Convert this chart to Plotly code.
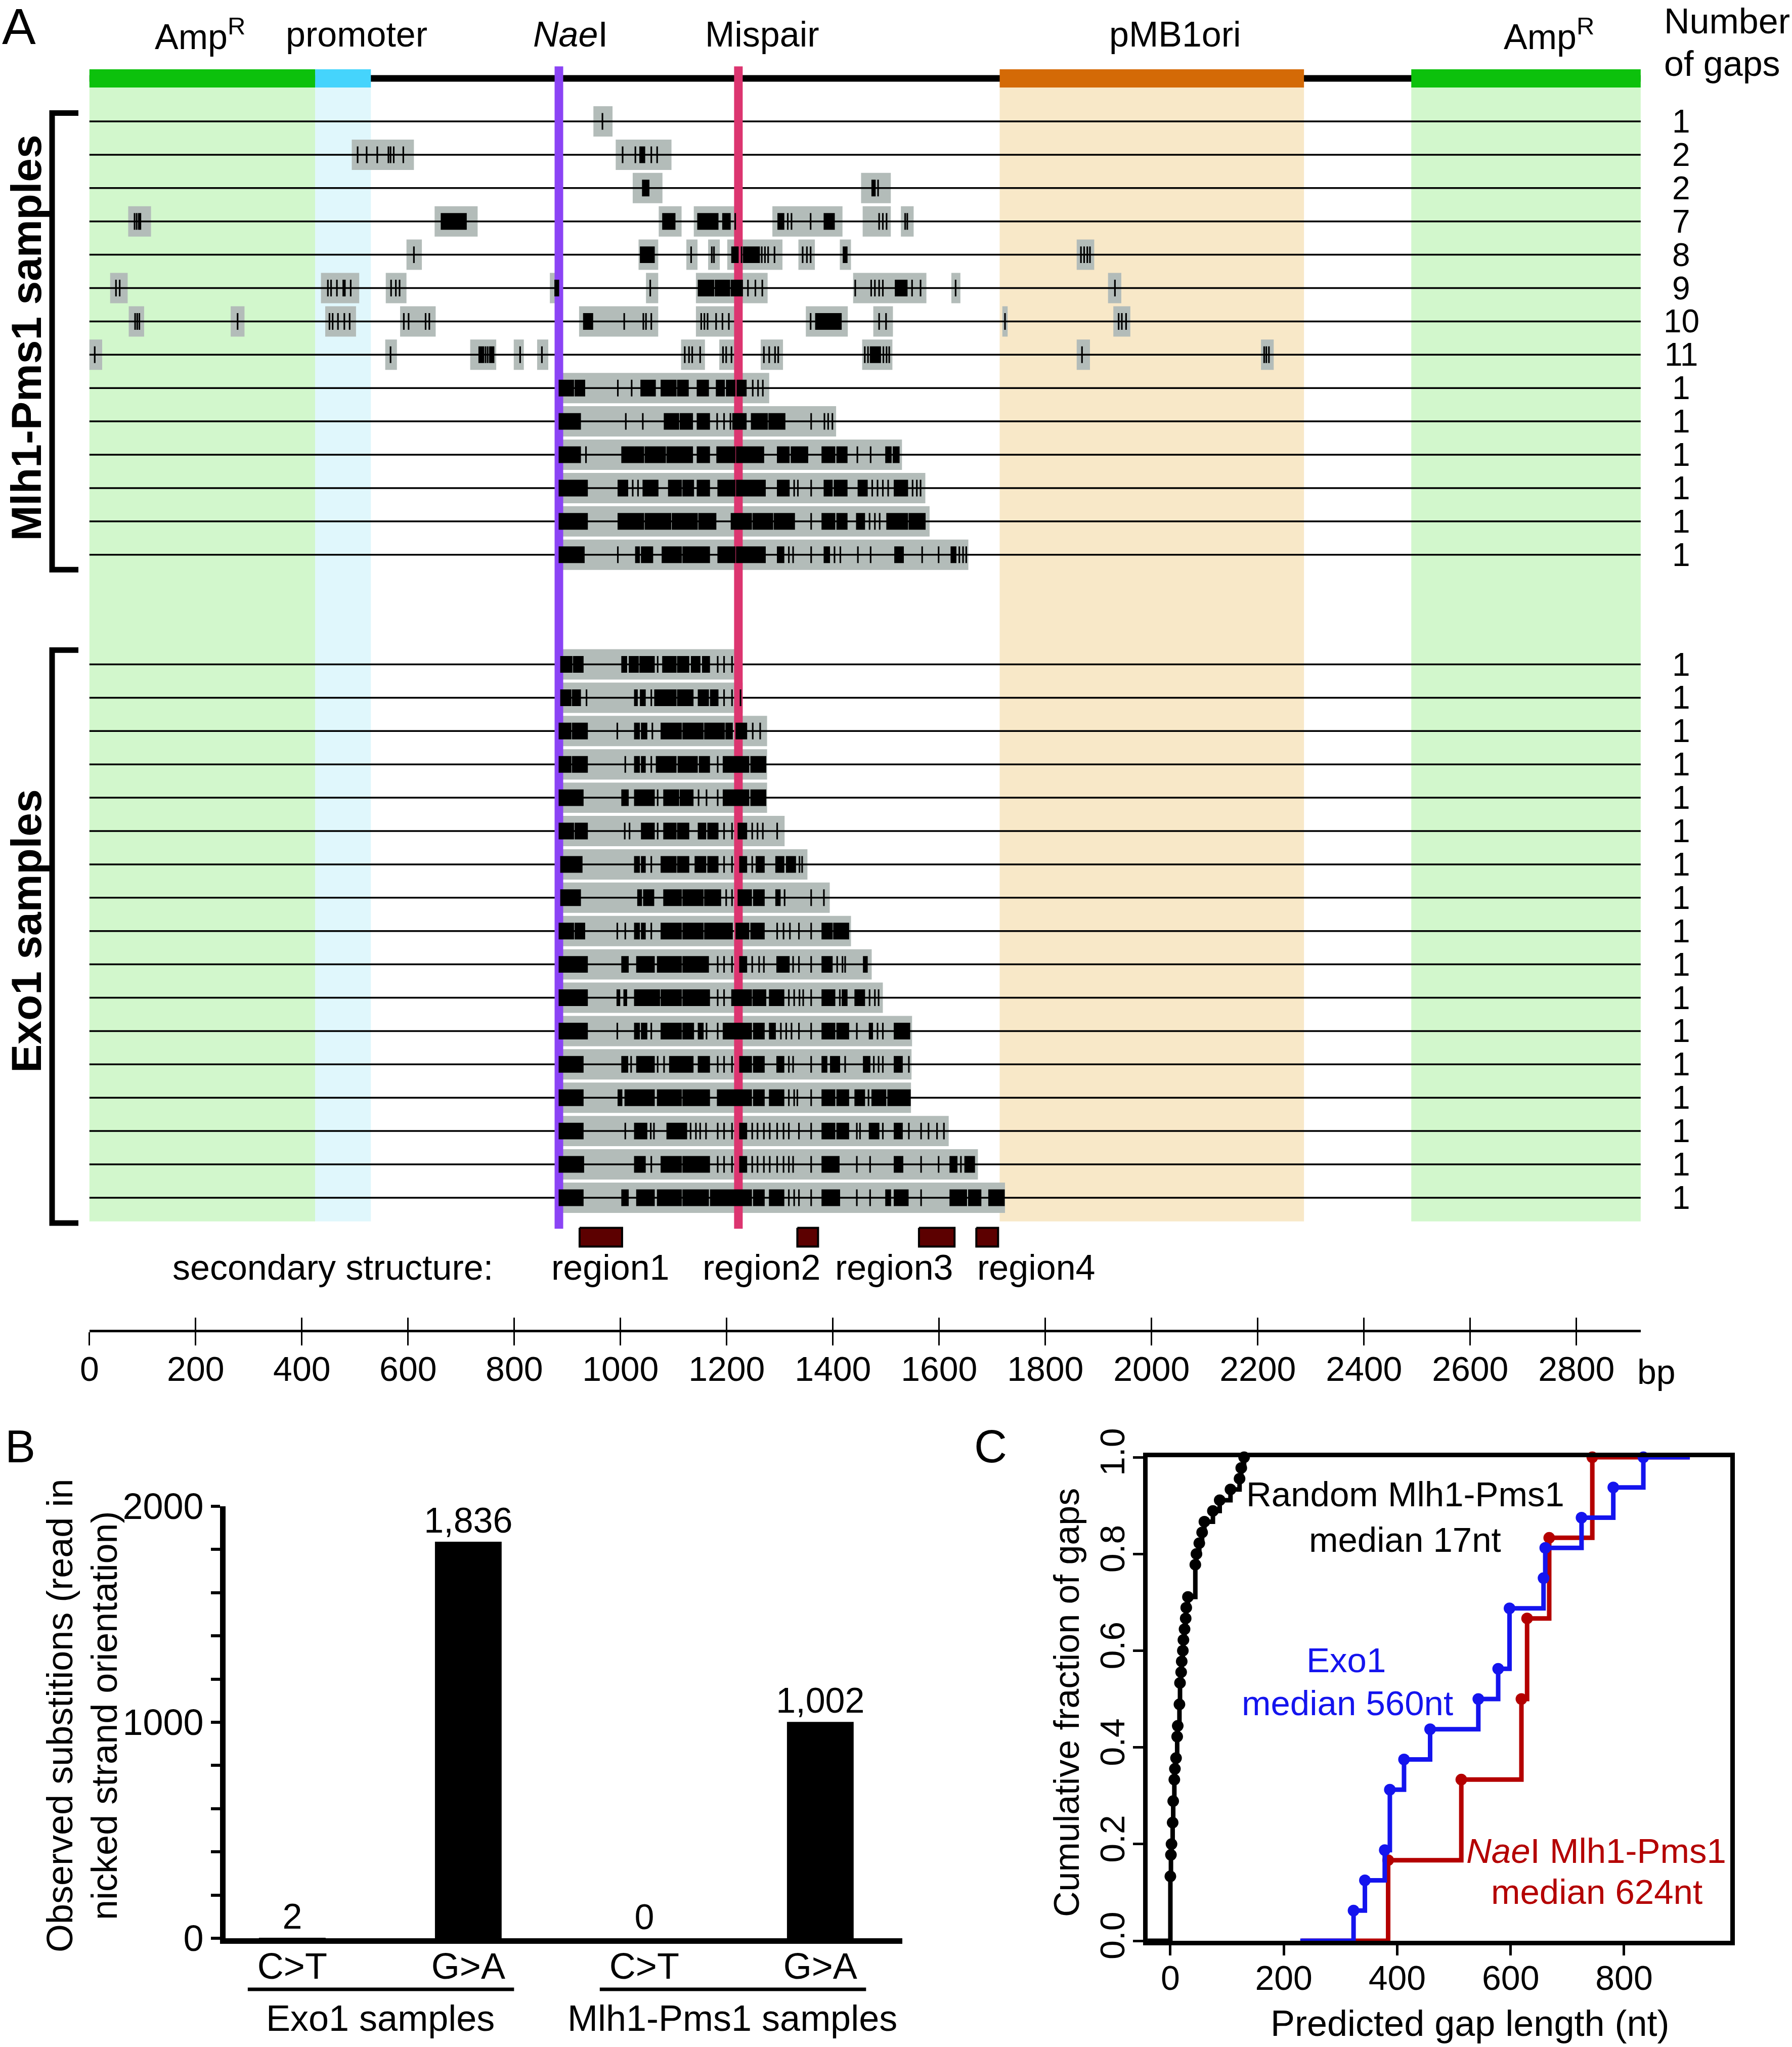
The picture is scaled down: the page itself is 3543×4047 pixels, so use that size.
import numpy as np
import plotly.graph_objects as go

# ============================ DATA ============================
# ---- Panel A: plasmid map (bp) ----
plasmid_length = 2921
feature_names = ["Amp<sup>R</sup>", "promoter", "pMB1ori", "Amp<sup>R</sup>"]
feature_start = [0, 425, 1714, 2489]
feature_end = [425, 530, 2287, 2921]
naei_site = 884
mispair_site = 1222

# Mlh1-Pms1 samples: gaps (start, end) and substitutions (single bp, or dense (start, end) clusters)
mlh1_gaps = [
    [(949, 985)],
    [(494, 611), (991, 1096)],
    [(1023, 1079), (1453, 1509)],
    [(73, 116), (650, 731), (1072, 1115), (1138, 1218), (1286, 1418), (1456, 1509), (1528, 1552)],
    [(597, 626), (1034, 1071), (1124, 1145), (1165, 1187), (1201, 1305), (1335, 1366), (1413, 1434), (1859, 1892)],
    [(39, 72), (436, 508), (558, 597), (867, 890), (1048, 1071), (1142, 1277), (1438, 1576), (1623, 1640), (1918, 1943)],
    [(74, 103), (266, 292), (444, 502), (585, 652), (922, 1071), (1142, 1220), (1349, 1428), (1476, 1513), (1719, 1729), (1928, 1960)],
    [(0, 24), (557, 579), (717, 766), (799, 818), (843, 864), (1114, 1159), (1186, 1228), (1264, 1306), (1455, 1512), (1859, 1884), (2206, 2230)],
    [(884, 1280)],
    [(884, 1406)],
    [(884, 1530)],
    [(884, 1574)],
    [(884, 1582)],
    [(884, 1655)],
]
mlh1_mutations = [
    [966],
    [505, 522, 542, 563, 567, 573, 591, 1004, 1028, (1037, 1045), 1058, 1069],
    [(1042, 1053), (1474, 1479), 1485],
    [85, 89, 93, 96, (663, 709), (1080, 1102), (1146, 1183), (1193, 1206), 1216, (1297, 1307), 1315, 1322, 1358,
     (1384, 1402), 1487, 1494, 1501, 1536, 1540],
    [611, (1038, 1063), 1133, 1172, 1176, (1210, 1221), 1228, (1232, 1261), 1266, 1272, 1278, 1290, 1343, 1351, 1358,
     (1420, 1426), 1867, 1873, 1879, 1884],
    [50, 57, 449, 455, 466, (478, 481), 492, 568, 577, 584, (877, 883), 1056, (1147, 1175), (1179, 1205), (1209, 1229),
     1240, 1254, 1267, 1442, 1472, 1479, 1487, 1494, (1518, 1539), 1549, 1565, 1631, 1931],
    [86, 90, 94, 279, 452, 458, 468, 480, 490, 592, 601, 633, 640, (931, 947), 1007, 1043, 1048, 1058, 1152, 1158,
     1164, 1180, 1192, 1204, 1358, (1368, 1415), 1487, 1500, 1724, 1938, 1944, 1952],
    [10, 567, (734, 742), 746, 750, (754, 761), 811, 852, 1121, 1129, 1135, 1150, 1193, 1199, 1209, 1270, 1280, 1291,
     1297, 1460, 1466, (1471, 1489), 1495, 1501, 1506, 1869, 2212, 2216, 2221],
    [(885, 911), (915, 932), 995, 1021, (1039, 1065), (1077, 1104), (1108, 1127), (1145, 1165), (1181, 1195),
     (1200, 1215), (1220, 1236), 1249, 1259, 1268],
    [(885, 924), 1010, 1042, (1083, 1109), (1113, 1135), (1145, 1167), 1182, 1195, 1207, (1212, 1236), (1247, 1276),
     (1280, 1309), 1359, 1384, 1391, 1399],
    [(885, 924), 935, (1003, 1043), (1047, 1084), (1088, 1135), (1145, 1167), (1182, 1215), (1219, 1269), (1296, 1317),
     (1322, 1352), (1380, 1403), (1408, 1426), 1446, 1471, (1500, 1509), (1514, 1524)],
    [(885, 937), (996, 1013), 1023, 1033, (1043, 1070), (1091, 1114), (1118, 1137), (1145, 1167), (1184, 1215),
     (1219, 1272), (1296, 1317), 1327, 1334, 1359, (1384, 1398), (1403, 1426), (1448, 1464), 1474, 1484, 1494, 1504,
     (1516, 1540), 1550, 1558, 1565],
    [(885, 937), (996, 1043), (1047, 1094), (1098, 1144), (1148, 1179), (1209, 1246), (1250, 1286), (1290, 1327), 1359,
     (1380, 1403), (1408, 1426), (1445, 1459), 1469, 1479, 1488, (1502, 1540), (1544, 1573)],
    [(885, 931), 995, (1029, 1035), (1040, 1060), (1079, 1114), (1118, 1167), (1184, 1215), (1219, 1272), (1296, 1307),
     1317, 1325, 1359, (1384, 1393), 1403, 1414, 1447, 1471, (1517, 1532), 1568, 1599, (1623, 1631), 1638, 1645, 1651],
]

# Exo1 samples: every gap starts at the NaeI nick
exo1_gap_start = 884
exo1_gap_end = [1224, 1230, 1276, 1276, 1276, 1309, 1352, 1394, 1434, 1473, 1494, 1549, 1548, 1547, 1618, 1673, 1724]
exo1_mutations = [
    [(888, 908), (912, 929), (1003, 1011), (1017, 1033), (1037, 1063), 1070, (1080, 1104), (1108, 1128), (1134, 1149),
     (1155, 1167), 1183, 1195, 1210],
    [(888, 906), (910, 924), 936, (1027, 1031), (1038, 1046), 1058, (1065, 1104), (1108, 1136), (1147, 1165),
     (1170, 1183), 1195, 1210, 1226],
    [(885, 906), (910, 937), 994, (1027, 1035), (1040, 1049), 1060, (1077, 1114), (1118, 1155), (1159, 1195),
     (1199, 1210), (1218, 1237), 1249, 1263],
    [(885, 906), (910, 937), 1009, (1027, 1035), (1040, 1046), 1058, (1068, 1104), (1109, 1144), (1149, 1167), 1183,
     (1194, 1215), (1218, 1241), (1246, 1273)],
    [(885, 929), (1003, 1014), (1027, 1063), 1070, (1082, 1109), (1113, 1136), 1147, 1162, 1183, (1194, 1215),
     (1218, 1241), (1246, 1273)],
    [(885, 911), (915, 937), 1008, 1017, (1040, 1063), 1070, (1082, 1104), (1108, 1128), (1147, 1160), (1165, 1183),
     1195, 1210, (1222, 1237), 1248, 1258, 1268, 1295],
    [(888, 927), (1027, 1035), (1040, 1046), 1058, (1077, 1104), (1108, 1128), (1141, 1160), (1165, 1183), 1195, 1210,
     (1225, 1237), 1248, (1256, 1270), (1293, 1307), (1313, 1329), 1337, 1342],
    [(888, 924), (1033, 1039), (1044, 1062), (1082, 1114), (1118, 1155), (1159, 1188), 1199, 1210, (1222, 1246),
     (1251, 1270), (1293, 1300), 1309, 1359, 1383],
    [(885, 911), (915, 932), 994, 1009, (1027, 1035), (1040, 1046), 1058, (1077, 1114), (1118, 1155), (1159, 1210),
     (1218, 1241), (1246, 1270), 1295, 1307, 1319, 1336, 1359, (1380, 1398), (1402, 1429)],
    [(885, 937), (1003, 1014), (1031, 1063), (1070, 1114), (1118, 1165), 1183, 1195, 1210, (1225, 1237), 1248, 1261,
     1270, (1295, 1317), 1325, 1336, 1359, (1380, 1398), 1408, 1418, 1423, (1458, 1464)],
    [(885, 937), (994, 998), (1007, 1011), (1027, 1073), (1077, 1114), (1118, 1167), 1183, 1195, (1210, 1246),
     (1250, 1273), (1281, 1307), 1317, 1327, 1337, 1344, 1359, (1380, 1403), 1413, (1418, 1426), (1442, 1459), 1469,
     1479, 1486],
    [(885, 937), 994, (1027, 1035), (1040, 1049), 1058, (1077, 1114), (1118, 1137), (1147, 1155), 1162, 1183,
     (1194, 1215), (1218, 1246), (1251, 1270), (1281, 1291), 1302, 1312, 1322, 1336, 1359, (1380, 1403), (1408, 1429),
     1445, (1469, 1474), 1484, 1494, (1516, 1544)],
    [(885, 929), (1003, 1013), 1020, (1031, 1063), 1070, 1082, (1093, 1136), (1147, 1167), 1183, 1195, 1210,
     (1225, 1246), (1251, 1270), (1295, 1307), 1317, 1325, 1359, (1380, 1388), (1396, 1412), 1423, (1458, 1469), 1477,
     1486, 1494, (1516, 1530), 1543],
    [(885, 929), (996, 1002), (1009, 1063), (1070, 1114), (1118, 1167), (1183, 1215), (1218, 1246), (1251, 1270),
     (1281, 1307), 1317, 1327, 1333, 1359, (1380, 1403), (1408, 1429), (1442, 1459), 1467, (1474, 1499), (1504, 1545)],
    [(885, 929), 1009, (1027, 1049), 1057, 1063, (1088, 1124), 1132, 1142, 1150, 1161, 1183, 1195, 1210, (1225, 1237),
     1248, 1258, 1270, 1281, 1295, 1307, 1317, 1336, 1359, (1380, 1403), (1408, 1429), 1445, 1451, (1469, 1486), 1494,
     (1516, 1530), 1543, 1566, 1580, 1596, 1609],
    [(885, 930), (1027, 1046), 1058, (1077, 1114), (1118, 1167), 1183, 1195, 1210, (1225, 1237), 1248, 1258, 1270,
     1281, 1295, 1307, 1317, 1325, 1359, (1380, 1411), 1445, 1470, (1516, 1531), 1566, 1599, (1621, 1633), 1641,
     (1649, 1666)],
    [(885, 929), (1003, 1014), (1031, 1063), (1070, 1114), (1118, 1165), (1170, 1215), (1218, 1246), (1251, 1270),
     (1281, 1307), 1317, 1327, 1336, 1359, (1380, 1412), 1445, 1470, (1500, 1508), (1516, 1541), 1566, (1621, 1651),
     (1656, 1678), (1694, 1722)],
]

sec_struct_names = ["region1", "region2", "region3", "region4"]
sec_struct_start = [923, 1333, 1562, 1670]
sec_struct_end = [1003, 1372, 1629, 1711]
bp_ticks = [0, 200, 400, 600, 800, 1000, 1200, 1400, 1600, 1800, 2000, 2200, 2400, 2600, 2800]

# ---- Panel B ----
sub_categories = ["C>T", "G>A", "C>T", "G>A"]
sub_groups = ["Exo1 samples", "Mlh1-Pms1 samples"]
sub_counts = [2, 1836, 0, 1002]

# ---- Panel C: predicted gap lengths (nt) ----
random_gap_lengths = [0, 0, 0, 0, 0, 0, 1, 1, 2, 4, 4, 5, 5, 7, 7, 8, 10, 12, 12, 13, 16, 16, 17, 17, 19, 20, 22, 23,
                      25, 27, 28, 31, 44, 44, 44, 46, 51, 56, 60, 75, 87, 106, 122, 125, 130]
exo1_gap_lengths = [323, 343, 378, 387, 387, 412, 458, 543, 578, 598, 598, 658, 661, 725, 781, 834]
naei_gap_lengths = [384, 513, 619, 629, 668, 744]

# ============================ LAYOUT / STYLE ============================
W, H = 3543, 4047
FONT = "Liberation Sans, Arial, Helvetica, sans-serif"
BP0_PX, PX_PER_BP = 176.8, 1.05
ROW0_PX, PX_PER_ROW = 240.0, 65.9
EXO1_ROW0 = 16.29
HEADER_ROW = -1.29

dark_cols = ["#0CC10C", "#45D4FC", "#D46A06", "#0CC10C"]
light_cols = ["#D2F7CC", "#E0F7FC", "#F8E8C8", "#D2F7CC"]
GAP_GRAY = "#B3BCB9"
NAEI_COL = "#8B44F5"
MIS_COL = "#DC3570"
BLUE = "#1414EE"
RED = "#B40000"


def px_row(p):
    return (p - ROW0_PX) / PX_PER_ROW


def px_bp(p):
    return (p - BP0_PX) / PX_PER_BP


def rect_path(rects):
    xs, ys = [], []
    for x0, x1, y0, y1 in rects:
        xs += [x0, x1, x1, x0, x0, None]
        ys += [y0, y0, y1, y1, y0, None]
    return xs, ys


fig = go.Figure()

mlh1_rows = list(range(len(mlh1_gaps)))
exo1_rows = [EXO1_ROW0 + i for i in range(len(exo1_gap_end))]
all_rows = mlh1_rows + exo1_rows
all_gaps = mlh1_gaps + [[(exo1_gap_start, e)] for e in exo1_gap_end]
all_muts = mlh1_mutations + exo1_mutations

BG_TOP, BG_BOT = -1.02, 33.0
shapes = []
for s, e, c in zip(feature_start, feature_end, light_cols):
    shapes.append(dict(type="rect", xref="x", yref="y", x0=s, x1=e, y0=BG_TOP, y1=BG_BOT,
                       fillcolor=c, line=dict(width=0), layer="below"))

# gap boxes
gap_rects = []
for r, gl in zip(all_rows, all_gaps):
    for s, e in gl:
        gap_rects.append((s, e, r - 0.455, r + 0.455))
gx, gy = rect_path(gap_rects)
fig.add_trace(go.Scatter(x=gx, y=gy, fill="toself", fillcolor=GAP_GRAY, mode="lines",
                         line=dict(width=0, color="rgba(0,0,0,0)"), hoverinfo="skip"))

# row lines
lx, ly = [], []
for r in all_rows:
    lx += [0, plasmid_length, None]
    ly += [r, r, None]
fig.add_trace(go.Scatter(x=lx, y=ly, mode="lines", line=dict(color="black", width=3.5), hoverinfo="skip"))

# header backbone + features
fig.add_trace(go.Scatter(x=[0, plasmid_length], y=[HEADER_ROW, HEADER_ROW], mode="lines",
                         line=dict(color="black", width=13), hoverinfo="skip"))
for s, e, c in zip(feature_start, feature_end, dark_cols):
    fx, fy = rect_path([(s, e, HEADER_ROW - 0.273, HEADER_ROW + 0.273)])
    fig.add_trace(go.Scatter(x=fx, y=fy, fill="toself", fillcolor=c, mode="lines",
                             line=dict(width=0, color="rgba(0,0,0,0)"), hoverinfo="skip"))

# NaeI / mispair lines
for site, col in [(naei_site, NAEI_COL), (mispair_site, MIS_COL)]:
    fig.add_trace(go.Scatter(x=[site, site], y=[-1.65, 33.22], mode="lines",
                             line=dict(color=col, width=17), hoverinfo="skip"))

# substitution ticks
HW = 1.5
mut_rects = []
for r, ml in zip(all_rows, all_muts):
    for m in ml:
        a, b = (m, m) if not isinstance(m, tuple) else m
        mut_rects.append((a - HW, b + HW, r - 0.25, r + 0.25))
mx, my = rect_path(mut_rects)
fig.add_trace(go.Scatter(x=mx, y=my, fill="toself", fillcolor="black", mode="lines",
                         line=dict(width=0, color="rgba(0,0,0,0)"), hoverinfo="skip"))

# brackets
for top, bot in [(-0.25, mlh1_rows[-1] + 0.45), (exo1_rows[0] - 0.43, exo1_rows[-1] + 0.76)]:
    fig.add_trace(go.Scatter(x=[px_bp(155), px_bp(103), px_bp(103), px_bp(155)], y=[top, top, bot, bot],
                             mode="lines", line=dict(color="black", width=11), hoverinfo="skip"))

# secondary structure regions
SS_ROW = px_row(2446)
sx, sy = rect_path([(s, e, SS_ROW - 0.28, SS_ROW + 0.28) for s, e in zip(sec_struct_start, sec_struct_end)])
fig.add_trace(go.Scatter(x=sx, y=sy, fill="toself", fillcolor="#5C0000", mode="lines",
                         line=dict(width=4, color="black"), hoverinfo="skip"))

# dummy traces for bp axis pair (x2 + overlaid x4)
for xa in ["x2", "x4"]:
    fig.add_trace(go.Scatter(x=[0], y=[0], xaxis=xa, yaxis="y", mode="markers",
                             marker=dict(opacity=0), hoverinfo="skip"))

# ---- Panel B bars ----
fig.add_trace(go.Bar(x=list(range(len(sub_counts))), y=sub_counts, xaxis="x3", yaxis="y3", width=0.379,
                     marker=dict(color="black", line=dict(width=0)),
                     text=[f"{v:,}" for v in sub_counts], textposition="outside", constraintext="none",
                     textfont=dict(family=FONT, size=70, color="black"), cliponaxis=False, hoverinfo="skip"))


# ---- Panel C ECDFs ----
def ecdf(vals):
    xs, cnt = np.unique(np.sort(np.asarray(vals, dtype=float)), return_counts=True)
    return xs, np.cumsum(cnt) / len(vals)


curves = [(random_gap_lengths, "black", -40, 130), (naei_gap_lengths, RED, 231, 916),
          (exo1_gap_lengths, BLUE, 229, 916)]
for vals, col, xl, xr in curves:
    xs, F = ecdf(vals)
    fig.add_trace(go.Scatter(x=[xl] + list(xs) + [xr], y=[0] + list(F) + [1], xaxis="x5", yaxis="y5",
                             mode="lines", line=dict(color=col, width=9, shape="hv"), hoverinfo="skip",
                             cliponaxis=False))
    fig.add_trace(go.Scatter(x=xs, y=F, xaxis="x5", yaxis="y5", mode="markers",
                             marker=dict(color=col, size=23), hoverinfo="skip", cliponaxis=False))

# ============================ ANNOTATIONS ============================
ann = []


def A(text, x, y, xref, yref, size, **kw):
    col = kw.pop("color", "black")
    d = dict(text=text, x=x, y=y, xref=xref, yref=yref, showarrow=False, xanchor="center", yanchor="middle",
             font=dict(family=FONT, size=size, color=col))
    d.update(kw)
    ann.append(d)


# panel letters
A("A", 37 / W, 1 - 52 / H, "paper", "paper", 100)
A("B", 40 / W, 1 - 2860 / H, "paper", "paper", 90)
A("C", 1958 / W, 1 - 2860 / H, "paper", "paper", 90)

# header labels
header_labels = [(feature_names[0], 208), ("promoter", 503), ("<i>Nae</i>I", 906), ("Mispair", 1267),
                 (feature_names[2], 2044), (feature_names[3], 2748)]
for t, xb in header_labels:
    A(t, xb, px_row(68), "x", "y", 70)
A("Number", px_bp(3288), px_row(42), "x", "y", 70, xanchor="left")
A("of gaps", px_bp(3288), px_row(126), "x", "y", 70, xanchor="left")

# number of gaps per row
for r, gl in zip(all_rows, all_gaps):
    A(str(len(gl)), px_bp(3324), r, "x", "y", 64)

# group labels
A("<b>Mlh1-Pms1 samples</b>", px_bp(52), (mlh1_rows[0] + mlh1_rows[-1]) / 2, "x", "y", 84, textangle=-90)
A("<b>Exo1 samples</b>", px_bp(52), (exo1_rows[0] + exo1_rows[-1]) / 2, "x", "y", 84, textangle=-90)

# secondary structure labels
A("secondary structure:", px_bp(658), px_row(2506), "x", "y", 70)
region_label_bp = [981, 1266, 1515, 1783]
for t, xb in zip(sec_struct_names, region_label_bp):
    A(t, xb, px_row(2506), "x", "y", 70)

# bp unit
A("bp", bp_ticks[-1], 1 - 2712 / H, "x", "paper", 68, xanchor="left", xshift=118)

# panel B labels
A("Observed substitions (read in", 118 / W, 1 - 3392 / H, "paper", "paper", 72, textangle=-90)
A("nicked strand orientation)", 206 / W, 1 - 3392 / H, "paper", "paper", 72, textangle=-90)
for gi, g in enumerate(sub_groups):
    A(g, 2 * gi + 0.5, 1 - 3990 / H, "x3", "paper", 72)
    shapes.append(dict(type="line", xref="x3", yref="paper", x0=2 * gi - 0.253, x1=2 * gi + 1.26,
                       y0=1 - 3933 / H, y1=1 - 3933 / H, line=dict(color="black", width=7)))

# panel C labels
A("Random Mlh1-Pms1", 414, 0.923, "x5", "y5", 69)
A("median 17nt", 414, 0.829, "x5", "y5", 69)
A("Exo1", 310, 0.58, "x5", "y5", 69, color=BLUE)
A("median 560nt", 312, 0.491, "x5", "y5", 69, color=BLUE)
A("<i>Nae</i>I Mlh1-Pms1", 751, 0.186, "x5", "y5", 69, color=RED)
A("median 624nt", 752, 0.101, "x5", "y5", 69, color=RED)
A("Predicted gap length (nt)", 2906 / W, 1 - 4000 / H, "paper", "paper", 72)
A("Cumulative fraction of gaps", 2109 / W, 1 - 3366 / H, "paper", "paper", 70, textangle=-90)

# ============================ AXES ============================
xa_dom = [BP0_PX / W, (BP0_PX + plasmid_length * PX_PER_BP) / W]
axis_y = 1 - 2631 / H
tickfont = dict(family=FONT, size=68, color="black")

fig.update_layout(
    template="none",
    width=W, height=H, margin=dict(l=0, r=0, t=0, b=0, pad=0, autoexpand=False), autosize=False,
    paper_bgcolor="white", plot_bgcolor="rgba(0,0,0,0)", showlegend=False,
    font=dict(family=FONT, color="black"),
    xaxis=dict(domain=[0, 1], range=[-BP0_PX / PX_PER_BP, (W - BP0_PX) / PX_PER_BP], visible=False,
               fixedrange=True, automargin=False),
    yaxis=dict(domain=[0, 1], range=[(H - ROW0_PX) / PX_PER_ROW, -ROW0_PX / PX_PER_ROW], visible=False,
               fixedrange=True, automargin=False),
    xaxis2=dict(domain=xa_dom, range=[0, plasmid_length], anchor="free", position=axis_y,
                showline=True, linecolor="black", linewidth=5, ticks="outside", ticklen=26, tickwidth=3,
                tickcolor="black", tickvals=bp_ticks, tickfont=tickfont, showgrid=False, zeroline=False,
                ticklabelstandoff=-12, automargin=False),
    xaxis4=dict(domain=xa_dom, range=[0, plasmid_length], anchor="free", position=axis_y,
                overlaying="x2", showline=False, ticks="inside", ticklen=26, tickwidth=3, tickcolor="black",
                tickvals=bp_ticks, showticklabels=False, showgrid=False, zeroline=False, automargin=False),
    xaxis3=dict(domain=[446 / W, 1784 / W], anchor="y3", range=[-0.379, 3.466], showline=True,
                linecolor="black", linewidth=11, ticks="", tickvals=list(range(len(sub_categories))),
                ticktext=sub_categories, tickfont=dict(family=FONT, size=72, color="black"), showgrid=False,
                zeroline=False, ticklabelstandoff=-17, automargin=False),
    yaxis3=dict(domain=[1 - 3832 / H, 1 - 2978 / H], anchor="x3", range=[0, 2000], showline=True,
                linecolor="black", linewidth=11, ticks="outside", ticklen=18, tickwidth=6, tickcolor="black",
                tickvals=[0, 1000, 2000], tickfont=dict(family=FONT, size=72, color="black"), showgrid=False,
                zeroline=False, automargin=False,
                minor=dict(dtick=200, tick0=0, ticks="outside", ticklen=18, tickwidth=6,
                           tickcolor="black", showgrid=False)),
    xaxis5=dict(domain=[2269 / W, 3421 / W], anchor="y5", range=[-40.1, 987.3], showline=True, mirror=True,
                linecolor="black", linewidth=9, ticks="outside", ticklen=20, tickwidth=5, tickcolor="black",
                tickvals=[0, 200, 400, 600, 800], tickfont=tickfont, showgrid=False, zeroline=False,
                ticklabelstandoff=-14, automargin=False),
    yaxis5=dict(domain=[1 - 3837 / H, 1 - 2881 / H], anchor="x5", range=[0, 1], showline=True, mirror=True,
                linecolor="black", linewidth=9, ticks="outside", ticklen=20, tickwidth=5, tickcolor="black",
                tickvals=[0, 0.2, 0.4, 0.6, 0.8, 1.0], tickformat=".1f", tickangle=-90, tickfont=tickfont,
                showgrid=False, zeroline=False, ticklabelstandoff=-10, automargin=False),
    shapes=shapes,
    annotations=ann,
)

fig.write_html("out.html")
